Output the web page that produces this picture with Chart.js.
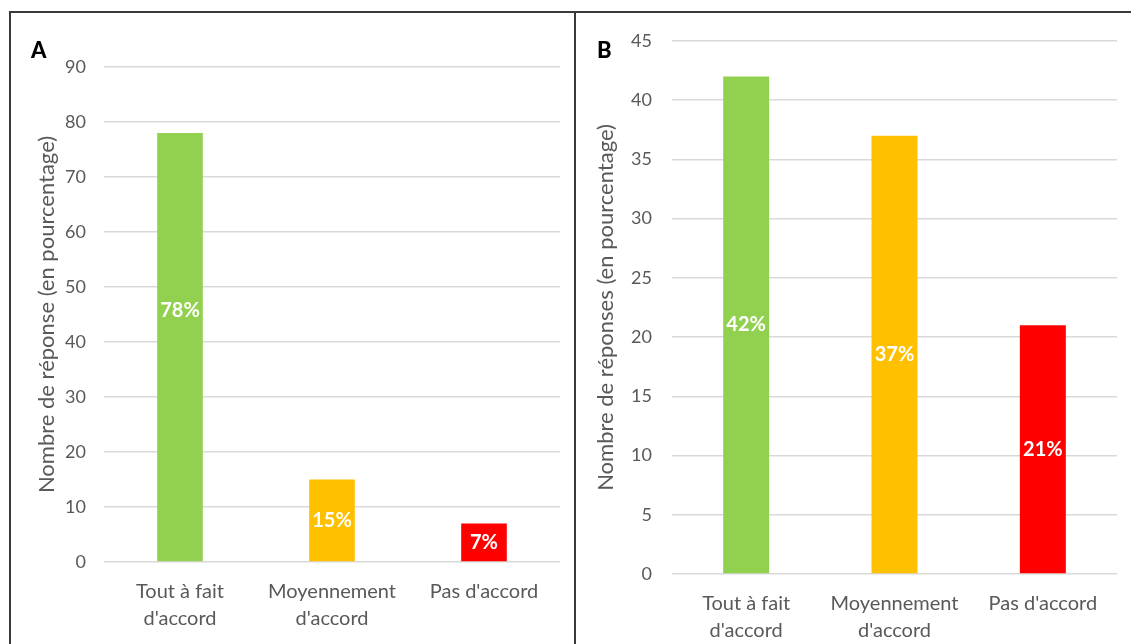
<!DOCTYPE html>
<html>
<head>
<meta charset="utf-8">
<script src="https://cdn.jsdelivr.net/npm/chart.js@4/dist/chart.umd.min.js"></script>
<style>
  html, body { margin: 0; padding: 0; background: #fff; }
  body { width: 1131px; height: 644px; position: relative; overflow: hidden; font-family: Lato, sans-serif; }
  .frame { position: absolute; left: 9px; top: 11px; right: -4px; bottom: -4px;
           border-top: 2px solid #3a3a3a; border-left: 2px solid #3a3a3a; }
  .divider { position: absolute; left: 574px; top: 11px; width: 2px; bottom: 0; background: #3a3a3a; }
  .panel { position: absolute; top: 13px; height: 631px; }
  .panel canvas { display: block; }
  #panelA { left: 11px; width: 563px; }
  #panelB { left: 576px; width: 555px; }
  .tag { position: absolute; font: 900 22px Lato, sans-serif; color: #000; line-height: 1; }
</style>
</head>
<body>
<div class="frame"></div>
<div class="divider"></div>
<div class="panel" id="panelA"><canvas id="chartA" width="563" height="631"></canvas></div>
<div class="panel" id="panelB"><canvas id="chartB" width="555" height="631"></canvas></div>
<div class="tag" style="left:31px; top:39px;">A</div>
<div class="tag" style="left:597px; top:39px;">B</div>
<script>
// Response categories shared by both panels
const categories = [["Tout à fait", "d'accord"], ["Moyennement", "d'accord"], "Pas d'accord"];
const barColors = ["#92D050", "#FFC000", "#FF0000"];

// Panel A values (percent of responses)
const valuesA = [78, 15, 7];
// Panel B values (percent of responses)
const valuesB = [42, 37, 21];

const yTitleA = "Nombre de réponse (en pourcentage)";
const yTitleB = "Nombre de réponses (en pourcentage)";

const textGrey = "#595959";
const gridGrey = "#D9D9D9";

// Writes "<value>%" inside each bar, at a chosen fraction of the bar height
const barValueLabels = {
  id: 'barValueLabels',
  afterDatasetsDraw(chart, args, opts) {
    const ctx = chart.ctx;
    const meta = chart.getDatasetMeta(0);
    const data = chart.data.datasets[0].data;
    ctx.save();
    ctx.font = 'bold 20px Lato, sans-serif';
    ctx.fillStyle = '#FFFFFF';
    ctx.textAlign = 'center';
    ctx.textBaseline = 'middle';
    meta.data.forEach((bar, i) => {
      const f = (opts.fractions && opts.fractions[i] != null) ? opts.fractions[i] : 0.5;
      const y = bar.base - (bar.base - bar.y) * f;
      ctx.fillText(data[i] + '%', bar.x, y);
    });
    ctx.restore();
  }
};

function makeChart(canvasId, values, yMax, yStep, yTitle, geom) {
  return new Chart(document.getElementById(canvasId), {
    type: 'bar',
    data: {
      labels: categories,
      datasets: [{
        data: values,
        backgroundColor: barColors,
        borderWidth: 0,
        barPercentage: 1,
        categoryPercentage: geom.catPct
      }]
    },
    options: {
      responsive: false,
      animation: false,
      events: [],
      layout: { padding: { left: geom.padLeft, right: geom.padRight, top: geom.padTop, bottom: 0 } },
      plugins: {
        legend: { display: false },
        tooltip: { enabled: false },
        barValueLabels: { fractions: geom.labelFractions }
      },
      scales: {
        x: {
          grid: { display: false, drawTicks: false },
          border: { display: false },
          ticks: {
            color: textGrey,
            font: { family: 'Lato', size: 20, lineHeight: 1.35 },
            padding: 16,
            maxRotation: 0,
            autoSkip: false
          },
          afterFit(scale) { scale.height = geom.xHeight; }
        },
        y: {
          min: 0,
          max: yMax,
          grid: { color: gridGrey, lineWidth: 1.5, drawTicks: false },
          border: { display: false },
          ticks: {
            stepSize: yStep,
            color: textGrey,
            font: { family: 'Lato', size: 18 },
            padding: geom.tickPad
          },
          title: {
            display: true,
            text: yTitle,
            color: textGrey,
            font: { family: 'Lato', size: 22, lineHeight: 1.2 },
            padding: 0
          },
          afterFit(scale) {
            scale.width = geom.yWidth;
            // top tick label only needs half its height above the plot area
            scale.paddingTop = 11;
            scale.paddingBottom = 11;
          }
        }
      }
    },
    plugins: [barValueLabels]
  });
}

makeChart('chartA', valuesA, 90, 10, yTitleA, {
  padLeft: 23, padRight: 14, padTop: 54, xHeight: 82, yWidth: 70, tickPad: 18,
  catPct: 0.30, labelFractions: [0.585, 0.5, 0.5]
});

makeChart('chartB', valuesB, 45, 5, yTitleB, {
  padLeft: 17, padRight: 14, padTop: 28, xHeight: 70, yWidth: 79, tickPad: 20,
  catPct: 0.31, labelFractions: [0.5, 0.5, 0.5]
});
</script>
</body>
</html>
